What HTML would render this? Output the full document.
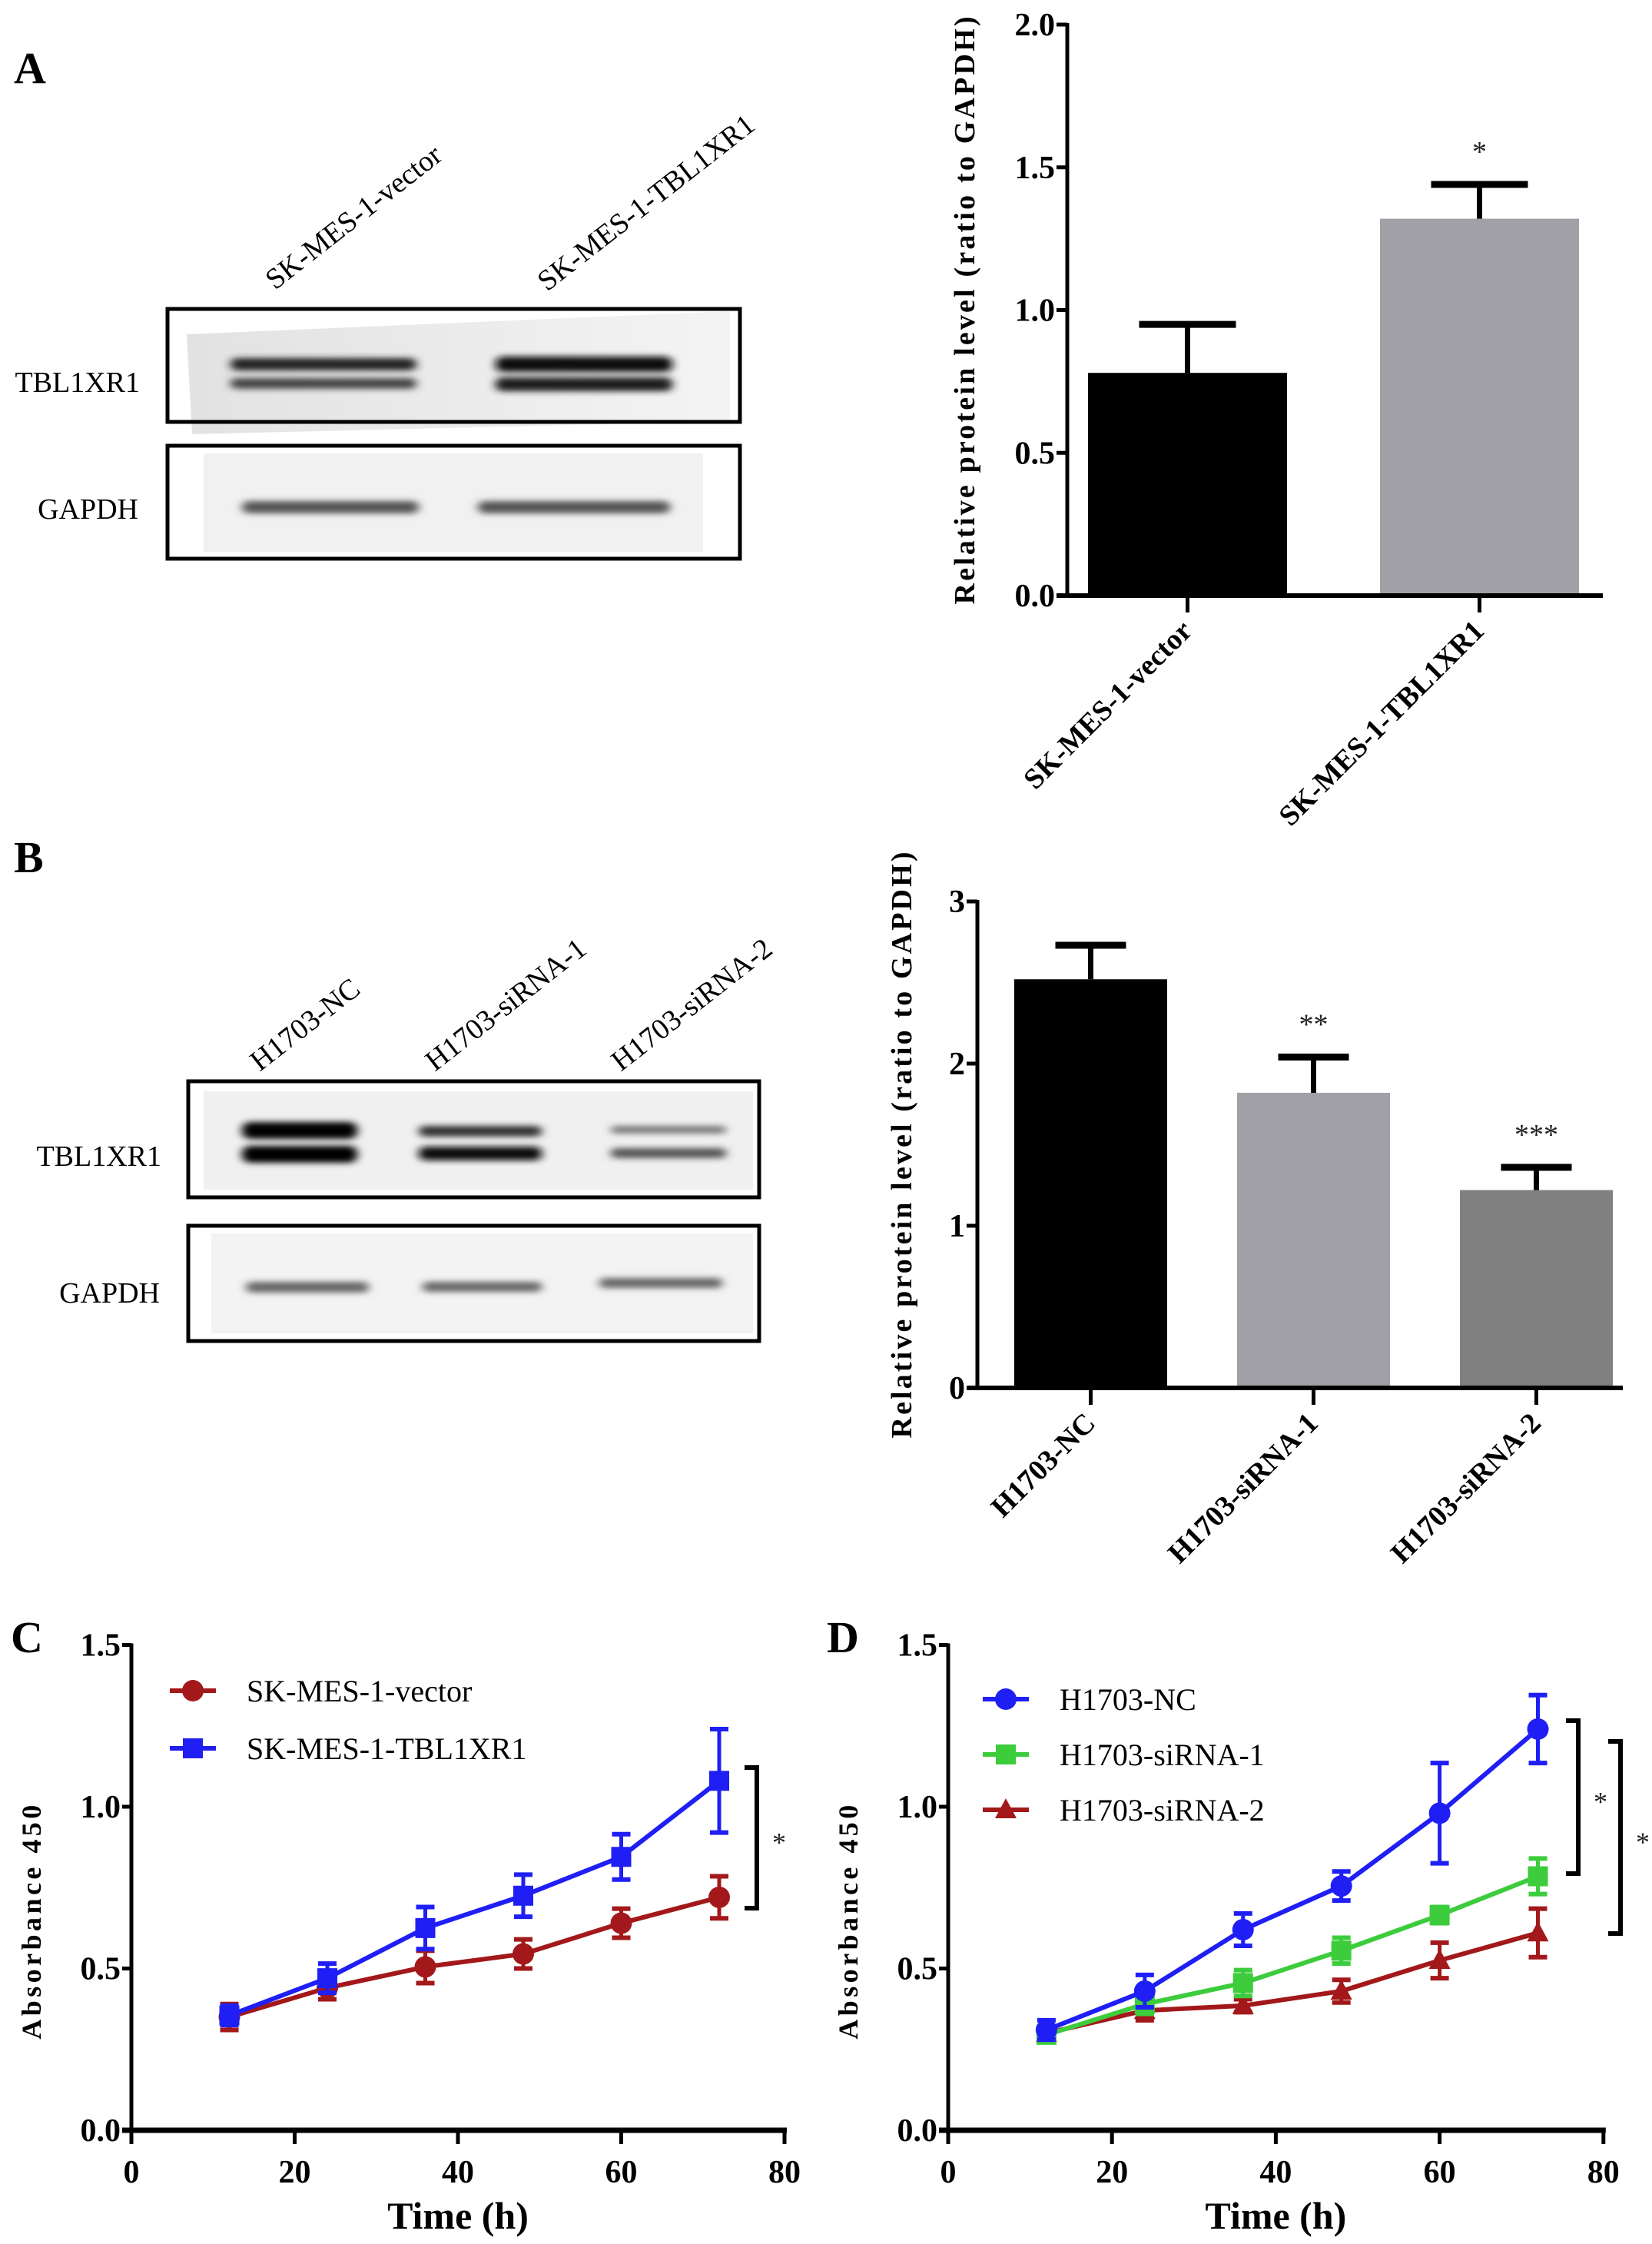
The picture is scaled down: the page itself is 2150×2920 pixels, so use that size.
<!DOCTYPE html>
<html><head><meta charset="utf-8">
<style>
html,body{margin:0;padding:0;background:#fff;}
svg{display:block;font-family:"Liberation Serif",serif;}
</style></head>
<body>
<svg id="fig" width="2150" height="2920" viewBox="0 0 2150 2920" xmlns="http://www.w3.org/2000/svg">
<defs>
<filter id="blur" x="-20%" y="-100%" width="140%" height="300%"><feGaussianBlur stdDeviation="6 4"/></filter>
<linearGradient id="bgA" x1="0" x2="1" y1="0" y2="0"><stop offset="0" stop-color="#e2e2e2"/><stop offset="1" stop-color="#f4f4f4"/></linearGradient>
</defs>

<!-- Panel letters -->
<text x="18" y="108" font-size="58" font-weight="bold">A</text>
<text x="18" y="1135" font-size="58" font-weight="bold">B</text>
<text x="14" y="2150" font-size="58" font-weight="bold">C</text>
<text x="1076" y="2150" font-size="58" font-weight="bold">D</text>

<!-- Blot A -->
<g>
  <text transform="translate(358,378) rotate(-38)" font-size="38">SK-MES-1-vector</text>
  <text transform="translate(712,380) rotate(-38)" font-size="38">SK-MES-1-TBL1XR1</text>
  <polygon points="243,435 950,405 950,548 250,565" fill="url(#bgA)"/>
  <rect x="265" y="590" width="650" height="128" fill="#f1f1f1"/>
  <g filter="url(#blur)">
    <rect x="300" y="466" width="242" height="16" rx="8" fill="#222"/>
    <rect x="300" y="492" width="242" height="14" rx="7" fill="#444"/>
    <rect x="645" y="464" width="230" height="20" rx="9" fill="#111"/>
    <rect x="645" y="491" width="230" height="18" rx="8" fill="#1a1a1a"/>
    <rect x="315" y="652" width="230" height="16" rx="8" fill="#555"/>
    <rect x="622" y="652" width="250" height="16" rx="8" fill="#555"/>
  </g>
  <rect x="218" y="402" width="745" height="147" fill="none" stroke="#000" stroke-width="5"/>
  <rect x="218" y="580" width="745" height="147" fill="none" stroke="#000" stroke-width="5"/>
  <text x="182" y="510" font-size="38" text-anchor="end">TBL1XR1</text>
  <text x="180" y="675" font-size="38" text-anchor="end">GAPDH</text>
</g>

<!-- Blot B -->
<g>
  <text transform="translate(338,1395) rotate(-38)" font-size="38">H1703-NC</text>
  <text transform="translate(566,1395) rotate(-38)" font-size="38">H1703-siRNA-1</text>
  <text transform="translate(808,1395) rotate(-38)" font-size="38">H1703-siRNA-2</text>
  <rect x="265" y="1420" width="715" height="128" fill="#f0f0f0"/>
  <rect x="275" y="1605" width="705" height="130" fill="#f3f3f3"/>
  <g filter="url(#blur)">
    <rect x="315" y="1460" width="150" height="22" rx="10" fill="#000"/>
    <rect x="315" y="1491" width="150" height="22" rx="10" fill="#000"/>
    <rect x="545" y="1465" width="160" height="14" rx="7" fill="#333"/>
    <rect x="545" y="1492" width="160" height="18" rx="8" fill="#111"/>
    <rect x="795" y="1465" width="150" height="10" rx="5" fill="#777"/>
    <rect x="795" y="1494" width="150" height="13" rx="6" fill="#555"/>
    <rect x="320" y="1668" width="160" height="14" rx="7" fill="#666"/>
    <rect x="550" y="1668" width="155" height="13" rx="6" fill="#666"/>
    <rect x="780" y="1663" width="160" height="13" rx="6" fill="#666"/>
  </g>
  <rect x="245" y="1407" width="743" height="151" fill="none" stroke="#000" stroke-width="5"/>
  <rect x="245" y="1595" width="743" height="150" fill="none" stroke="#000" stroke-width="5"/>
  <text x="210" y="1517" font-size="38" text-anchor="end">TBL1XR1</text>
  <text x="208" y="1695" font-size="38" text-anchor="end">GAPDH</text>
</g>

<g id="charts"></g>
</svg>

<script>
// ---- Chart A data ----
const catsA = ["SK-MES-1-vector", "SK-MES-1-TBL1XR1"];
const valsA = [0.78, 1.32];
const errsA = [0.17, 0.12];
const sigA = ["", "*"];
const ticksA = [0.0, 0.5, 1.0, 1.5, 2.0];
const tickLabelsA = ["0.0", "0.5", "1.0", "1.5", "2.0"];
// ---- Chart B data ----
const catsB = ["H1703-NC", "H1703-siRNA-1", "H1703-siRNA-2"];
const valsB = [2.52, 1.82, 1.22];
const errsB = [0.21, 0.22, 0.14];
const sigB = ["", "**", "***"];
const ticksB = [0, 1, 2, 3];
const tickLabelsB = ["0", "1", "2", "3"];
// ---- Chart C data ----
const timesC = [12, 24, 36, 48, 60, 72];
const vectorC = [0.35, 0.44, 0.505, 0.545, 0.64, 0.72];
const vectorErrC = [0.04, 0.035, 0.05, 0.045, 0.045, 0.065];
const tblC = [0.355, 0.47, 0.625, 0.725, 0.845, 1.08];
const tblErrC = [0.03, 0.045, 0.065, 0.065, 0.07, 0.16];
// ---- Chart D data ----
const timesD = [12, 24, 36, 48, 60, 72];
const ncD = [0.31, 0.43, 0.62, 0.755, 0.98, 1.24];
const ncErrD = [0.03, 0.05, 0.05, 0.045, 0.155, 0.105];
const si1D = [0.295, 0.39, 0.455, 0.555, 0.665, 0.785];
const si1ErrD = [0.02, 0.03, 0.04, 0.04, 0.025, 0.055];
const si2D = [0.30, 0.37, 0.385, 0.43, 0.525, 0.61];
const si2ErrD = [0.02, 0.03, 0.02, 0.035, 0.055, 0.075];
const yTicksLine = [0.0, 0.5, 1.0, 1.5];
const yTickLabelsLine = ["0.0", "0.5", "1.0", "1.5"];
const xTicksLine = [0, 20, 40, 60, 80];
const xTickLabelsLine = ["0", "20", "40", "60", "80"];

const NS = "http://www.w3.org/2000/svg";
const root = document.getElementById("charts");
function mk(tag, attrs, parent) {
  const e = document.createElementNS(NS, tag);
  for (const k in attrs) e.setAttribute(k, attrs[k]);
  (parent || root).appendChild(e);
  return e;
}

function barChart(cfg, cats, vals, errs, sig, ticks, tickLabels, colors) {
  const g = mk("g", {});
  
  
  const y = v => cfg.y0 - v * cfg.ppu;
  const yTop = y(ticks[ticks.length - 1]);
  // bars
  cats.forEach((c, i) => {
    const left = cfg.left + i * cfg.step;
    const cx = left + cfg.bw / 2;
    const b = mk("rect", {x: left, y: y(vals[i]), width: cfg.bw, height: cfg.y0 - y(vals[i]), fill: colors[i]}, g);
    
    
    const el = mk("line", {x1: cx, x2: cx, y1: y(vals[i]), y2: y(vals[i] + errs[i]), stroke: "#000", "stroke-width": 7}, g);
    
    
    const cap = mk("line", {x1: cx - cfg.cap / 2, x2: cx + cfg.cap / 2, y1: y(vals[i] + errs[i]), y2: y(vals[i] + errs[i]), stroke: "#000", "stroke-width": 9}, g);
    
    
    if (sig[i]) {
      const s = mk("text", {x: cx, y: y(vals[i] + errs[i]) - 30, "font-size": 38, "text-anchor": "middle", fill: "#222"}, g);
      s.textContent = sig[i];
      
      
    }
    const tk = mk("line", {x1: cx, x2: cx, y1: cfg.y0, y2: cfg.y0 + 22, stroke: "#000", "stroke-width": 5}, g);
    
    
    const lb = mk("text", {transform: `translate(${cx + 8},${cfg.y0 + 48}) rotate(-45)`, "font-size": 38, "font-weight": "bold", "text-anchor": "end"}, g);
    lb.textContent = c;
    
    
  });
  // axes
  const ya = mk("line", {x1: cfg.ax, x2: cfg.ax, y1: yTop - 2, y2: cfg.y0 + 3, stroke: "#000", "stroke-width": 5}, g);
  
  
  const xa = mk("line", {x1: cfg.ax - 14, x2: cfg.axEnd, y1: cfg.y0, y2: cfg.y0, stroke: "#000", "stroke-width": 6}, g);
  
  
  ticks.forEach((t, i) => {
    const tk = mk("line", {x1: cfg.ax - 14, x2: cfg.ax, y1: y(t), y2: y(t), stroke: "#000", "stroke-width": 5}, g);
    
    
    const tl = mk("text", {x: cfg.ax - 16, y: y(t) + 14, "font-size": 42, "font-weight": "bold", "text-anchor": "end"}, g);
    tl.textContent = tickLabels[i];
    
    
  });
  const yt = mk("text", {transform: `translate(${cfg.titleX},${cfg.titleY}) rotate(-90)`, "font-size": 38, "font-weight": "bold", "text-anchor": "middle", textLength: cfg.titleLen, lengthAdjust: "spacing"}, g);
  yt.textContent = "Relative protein level (ratio to GAPDH)";
  
  
}

barChart({name: "bar-chart-a", ax: 1389, axEnd: 2086, y0: 775, ppu: 371.5, left: 1416, bw: 259, step: 380, cap: 126, titleX: 1268, titleY: 404, titleLen: 765},
  catsA, valsA, errsA, sigA, ticksA, tickLabelsA, ["#000000", "#a0a0a6"]);
barChart({name: "bar-chart-b", ax: 1272, axEnd: 2112, y0: 1806, ppu: 211, left: 1320, bw: 199, step: 290, cap: 92, titleX: 1186, titleY: 1490, titleLen: 763},
  catsB, valsB, errsB, sigB, ticksB, tickLabelsB, ["#000000", "#a0a0a6", "#808080"]);

function marker(type, x, y, color, g) {
  let m;
  if (type === "circle") m = mk("circle", {cx: x, cy: y, r: 14, fill: color}, g);
  else if (type === "square") m = mk("rect", {x: x - 13, y: y - 13, width: 26, height: 26, fill: color}, g);
  else m = mk("polygon", {points: `${x},${y - 15} ${x + 14},${y + 11} ${x - 14},${y + 11}`, fill: color}, g);
  
  
}

function lineChart(cfg, series) {
  const g = mk("g", {});
  
  
  const x = t => cfg.ax + t * cfg.ppx;
  const y = v => cfg.y0 - v * cfg.ppy;
  series.forEach(s => {
    const sg = mk("g", {}, g);
    
    
    s.vals.forEach((v, i) => {
      const cx = x(s.t[i]);
      const e = mk("line", {x1: cx, x2: cx, y1: y(v - s.err[i]), y2: y(v + s.err[i]), stroke: s.color, "stroke-width": 5}, sg);
      
      
      [v - s.err[i], v + s.err[i]].forEach(ev => {
        const c = mk("line", {x1: cx - 12, x2: cx + 12, y1: y(ev), y2: y(ev), stroke: s.color, "stroke-width": 6}, sg);
        
        
      });
    });
    const pts = s.vals.map((v, i) => x(s.t[i]) + "," + y(v)).join(" ");
    const pl = mk("polyline", {points: pts, fill: "none", stroke: s.color, "stroke-width": 6}, sg);
    
    
    s.vals.forEach((v, i) => marker(s.marker, x(s.t[i]), y(v), s.color, sg));
    // legend
    const lg = mk("g", {}, g);
    
    
    const ll = mk("line", {x1: s.lx - 30, x2: s.lx + 30, y1: s.ly, y2: s.ly, stroke: s.color, "stroke-width": 6}, lg);
    
    
    marker(s.marker, s.lx, s.ly, s.color, lg);
    const lt = mk("text", {x: s.lx + 70, y: s.ly + 14, "font-size": 40}, lg);
    lt.textContent = s.label;
    
    
  });
  const ya = mk("line", {x1: cfg.ax, x2: cfg.ax, y1: y(1.5) - 2, y2: cfg.y0 + 3, stroke: "#000", "stroke-width": 5}, g);
  
  
  const xa = mk("line", {x1: cfg.ax - 12, x2: x(80) + 3, y1: cfg.y0, y2: cfg.y0, stroke: "#000", "stroke-width": 7}, g);
  
  
  yTicksLine.forEach((t, i) => {
    const tk = mk("line", {x1: cfg.ax - 12, x2: cfg.ax, y1: y(t), y2: y(t), stroke: "#000", "stroke-width": 5}, g);
    
    
    const tl = mk("text", {x: cfg.ax - 14, y: y(t) + 14, "font-size": 42, "font-weight": "bold", "text-anchor": "end"}, g);
    tl.textContent = yTickLabelsLine[i];
    
    
  });
  xTicksLine.forEach((t, i) => {
    const tk = mk("line", {x1: x(t), x2: x(t), y1: cfg.y0, y2: cfg.y0 + 18, stroke: "#000", "stroke-width": 5}, g);
    
    
    const tl = mk("text", {x: x(t), y: cfg.y0 + 68, "font-size": 42, "font-weight": "bold", "text-anchor": "middle"}, g);
    tl.textContent = xTickLabelsLine[i];
    
    
  });
  const xt = mk("text", {x: x(40), y: cfg.y0 + 128, "font-size": 50, "font-weight": "bold", "text-anchor": "middle"}, g);
  xt.textContent = "Time (h)";
  
  
  const yt = mk("text", {transform: `translate(${cfg.ax - 118},${y(0.75) + 45}) rotate(-90)`, "font-size": 36, "font-weight": "bold", "text-anchor": "middle", textLength: 305, lengthAdjust: "spacing"}, g);
  yt.textContent = "Absorbance 450";
  
  
  cfg.brackets.forEach(b => {
    const br = mk("polyline", {points: `${b.x - 16},${b.y1} ${b.x},${b.y1} ${b.x},${b.y2} ${b.x - 16},${b.y2}`, fill: "none", stroke: "#000", "stroke-width": 6}, g);
    
    
    const st = mk("text", {x: b.x + 20, y: (b.y1 + b.y2) / 2 + 18, "font-size": 36, fill: "#222"}, g);
    st.textContent = "*";
    
    
  });
}

const RED = "#a3181a", BLUE = "#1f1ff5", GREEN = "#3ccc3c";
lineChart({name: "line-chart-c", ax: 171, ppx: 10.625, y0: 2772, ppy: 421,
  brackets: [{x: 985, y1: 2300, y2: 2483}]}, [
  {label: "SK-MES-1-vector", t: timesC, vals: vectorC, err: vectorErrC, color: RED, marker: "circle", lx: 251, ly: 2200},
  {label: "SK-MES-1-TBL1XR1", t: timesC, vals: tblC, err: tblErrC, color: BLUE, marker: "square", lx: 251, ly: 2275}
]);
lineChart({name: "line-chart-d", ax: 1234, ppx: 10.66, y0: 2772, ppy: 421,
  brackets: [{x: 2054, y1: 2239, y2: 2438}, {x: 2109, y1: 2266, y2: 2516}]}, [
  {label: "H1703-siRNA-2", t: timesD, vals: si2D, err: si2ErrD, color: RED, marker: "triangle", lx: 1309, ly: 2355},
  {label: "H1703-siRNA-1", t: timesD, vals: si1D, err: si1ErrD, color: GREEN, marker: "square", lx: 1309, ly: 2283},
  {label: "H1703-NC", t: timesD, vals: ncD, err: ncErrD, color: BLUE, marker: "circle", lx: 1309, ly: 2211}
]);
</script>
</body></html>
